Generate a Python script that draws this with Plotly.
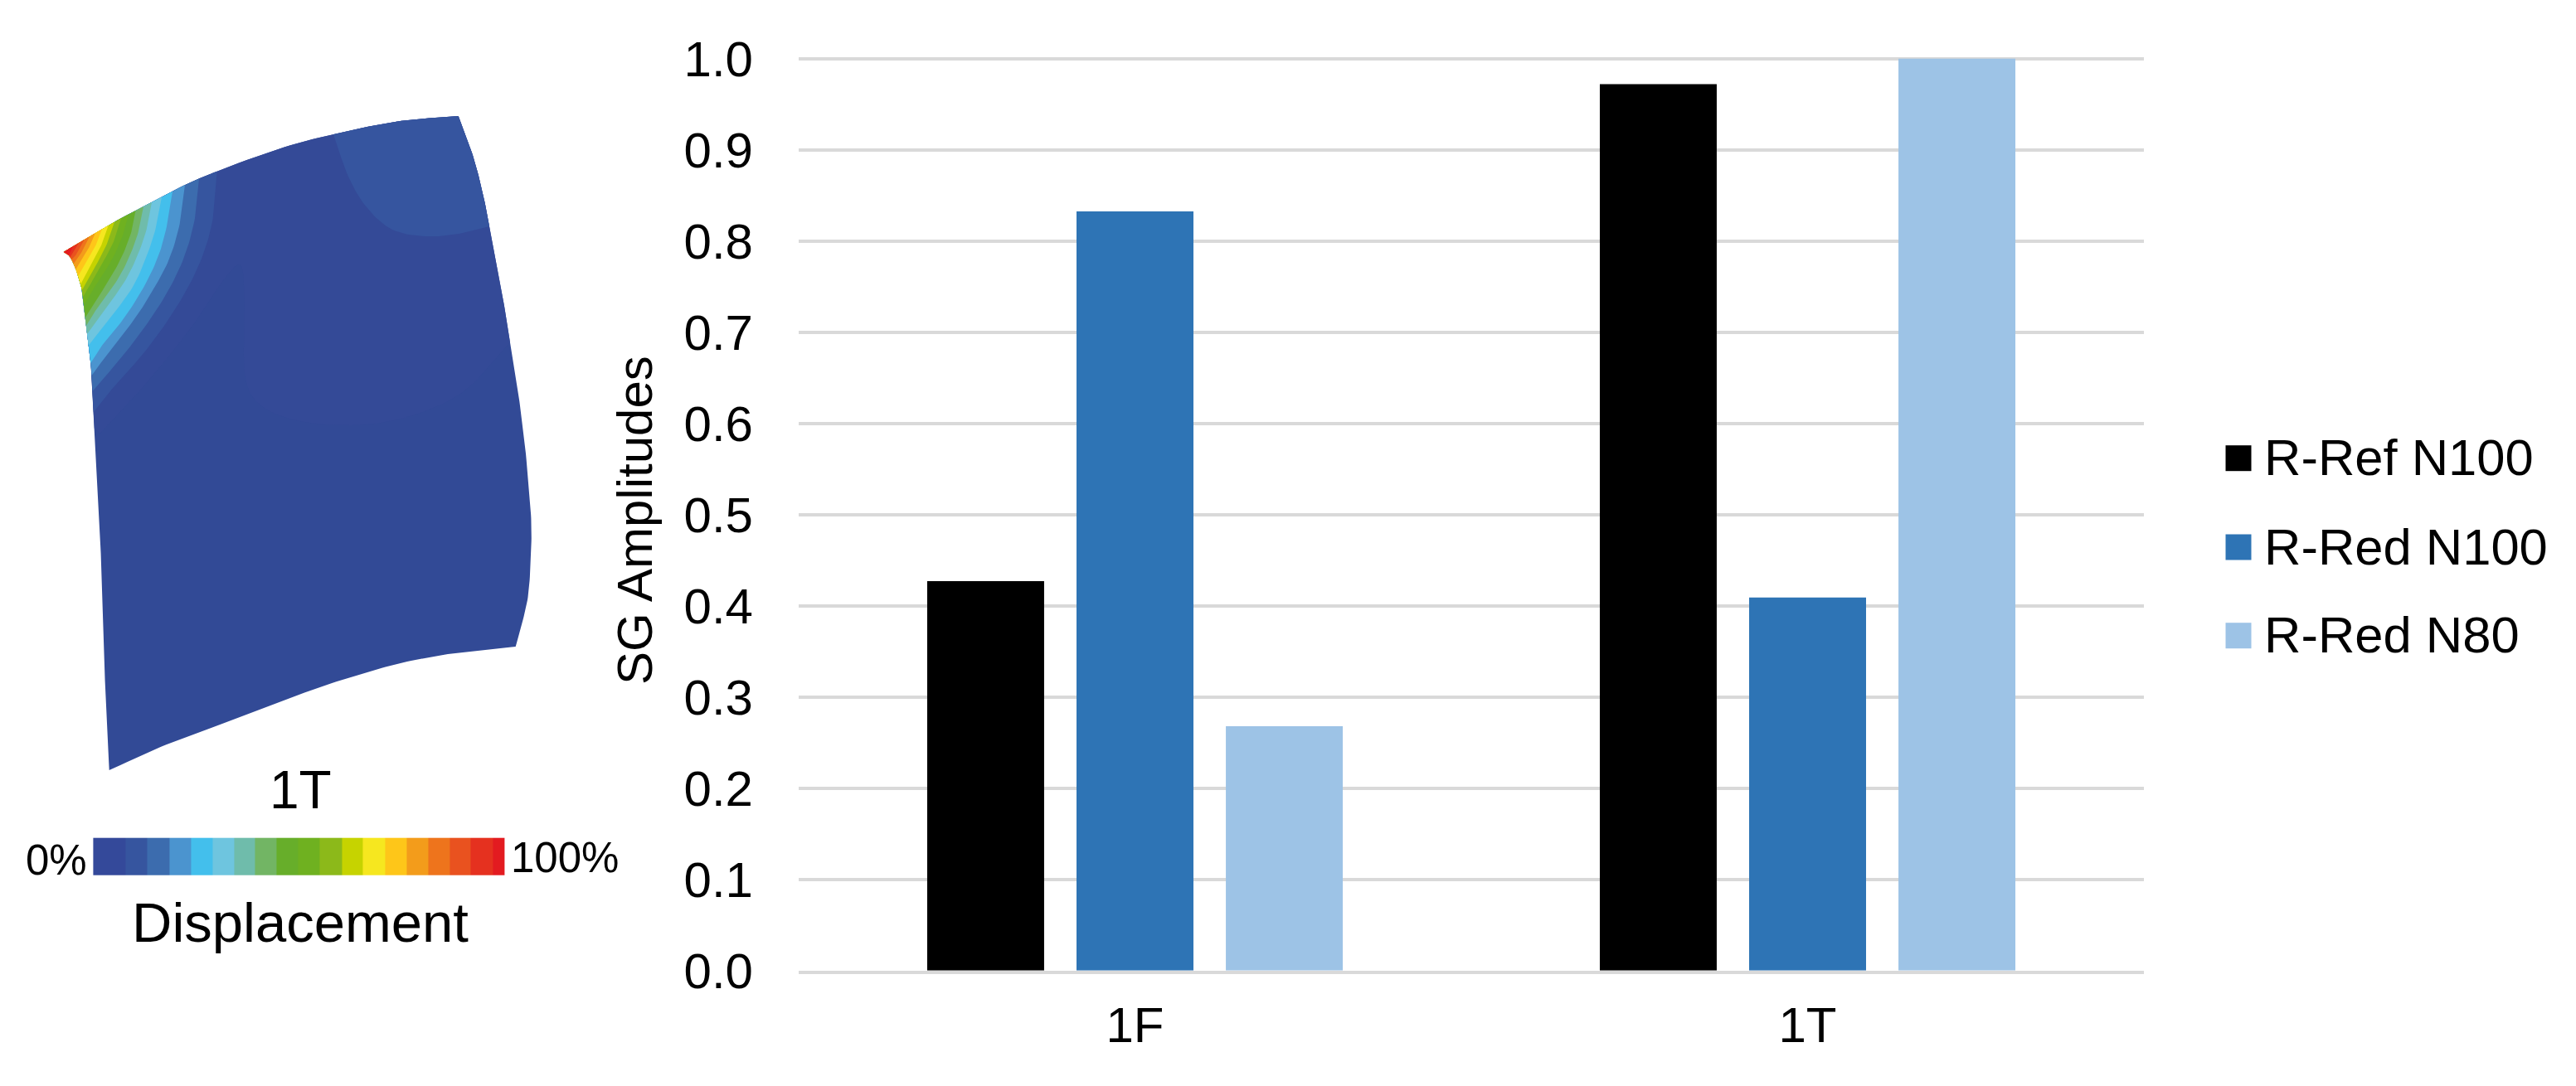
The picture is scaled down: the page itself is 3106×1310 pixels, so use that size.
import numpy as np
import plotly.graph_objects as go

W, H = 3106, 1310
FONT = "Liberation Sans"

# ---- bar chart data
modes = ["1F", "1T"]
r_ref_n100 = [0.427, 0.972]
r_red_n100 = [0.8325, 0.409]
r_red_n80 = [0.268, 1.0]
series_names = ["R-Ref N100", "R-Red N100", "R-Red N80"]
series_colors = ["#000000", "#2e74b5", "#9dc3e6"]
y_ticks = [0.0, 0.1, 0.2, 0.3, 0.4, 0.5, 0.6, 0.7, 0.8, 0.9, 1.0]

# ---- contour colours / colour bar (left to right)
band_colors = ["#34499a", "#36559f", "#3c6cae", "#4b94cf", "#43bfec", "#6ec5df", "#6fbcab",
               "#72b564", "#67ae2a", "#6fb120", "#8cb91a", "#c6d300", "#f6e71f", "#fec619",
               "#f39c1b", "#ee741c", "#e9521f", "#e5311f", "#e31b20"]
bar_edges = [112.4, 151.7, 177, 204, 229.9, 256.7, 282.6, 307.5, 333.8, 359.7, 385.6, 411.9,
             437.8, 464.2, 490.5, 516, 542.3, 567.7, 594.5, 608]

# ---- blade outline (picture coordinates)
blade_top = [(76.8, 304), (134, 270), (183, 244), (241, 215), (335, 180), (402, 162), (469, 148),
             (513, 143), (552.7, 140)]
blade_right = [(552.7, 140), (563, 167), (573, 197), (583, 237), (590, 273), (600, 323), (607, 363),
               (615, 413), (622, 453), (628, 497), (633, 537), (638, 593), (640.7, 633), (640, 673),
               (637, 717), (630, 750), (621.7, 780)]
blade_bottom = [(621.7, 780), (573, 785), (540, 789), (491, 798), (446, 810), (388, 828),
                (335, 848), (268, 873), (201, 898), (131.7, 929)]
blade_left = [(131.7, 929), (127, 833), (123, 700), (118, 600), (113, 500), (110.5, 450), (105, 403),
              (101.7, 373), (99.3, 352), (93.3, 330), (88.3, 317), (83.3, 308.3), (76.8, 304)]

# contour bands: x where each meets the top edge, interior points, y where it meets the left edge
band_top_x = [261.7, 240, 223, 208, 195, 183, 173, 163.5, 155, 146, 138, 130.7, 123, 115, 108, 101.7, 95, 88.3]
band_left_y = [497, 471.7, 452.7, 438, 416.7, 403, 393, 383, 368, 358, 350, 343, 333, 325, 318, 313, 310, 308]
band_arcs = [
    [(256.7, 263.3), (245, 306.7), (226.7, 346.7), (200, 390), (170, 430), (140, 463.3)],
    [(235, 263.3), (223.3, 306.7), (205, 346.7), (180, 386.7), (150, 426.7)],
    [(216.7, 270), (205, 310), (188.3, 343.3), (163.3, 383.3), (133.3, 421.7)],
    [(201.7, 270), (191.7, 306.7), (175, 343.3), (150, 383.3), (126.7, 411.7)],
    [(188.3, 273.3), (178.3, 305), (161.7, 343.3), (138.3, 376.7)],
    [(176.7, 276.7), (165, 310), (150, 340), (126.7, 373.3)],
    [(166.7, 280), (155, 311.7), (140, 340), (118.3, 370)],
    [(158.3, 280), (146.7, 310), (130, 340)],
    [(148.3, 283.3), (135, 313.3), (120, 336.7)],
    [(138.3, 288.3), (126.7, 311.7)],
    [(130, 291.7), (116.7, 318.3)],
    [(123.3, 293.3), (110, 318.3)],
    [(116.7, 293.3), (103.3, 316.7)],
    [(108.3, 296.7), (96.7, 315)],
    [(100, 301.7)],
    [(93.3, 305)],
    [(88.3, 305)],
    [(85, 303)],
]

# faint lighter patches of the same displacement range
patch_corner = [(402, 162), (420, 213), (442, 250), (473, 277), (513, 285), (553, 282), (590, 273)]
patch_inner = [(120.5, 523), (178.6, 460), (232, 393), (268, 340), (290, 320), (295, 367), (295, 450),
               (312, 487), (357, 507), (424, 513), (491, 503), (558, 473), (615, 413)]
blade_base_color = "#324a96"
blade_inner_color = "#344a97"


def smooth(pts, n=10):
    """Catmull-Rom drawing of a hand-read curve."""
    p = np.array(pts, float)
    if len(p) < 3:
        return p
    q = np.vstack([2 * p[0] - p[1], p, 2 * p[-1] - p[-2]])
    out = []
    for i in range(1, len(q) - 2):
        for t in np.linspace(0, 1, n, endpoint=False):
            a, b, c, d = q[i - 1], q[i], q[i + 1], q[i + 2]
            out.append(0.5 * (2 * b + (c - a) * t + (2 * a - 5 * b + 4 * c - d) * t ** 2 + (3 * b - a - 3 * c + d) * t ** 3))
    out.append(p[-1])
    return np.array(out)


top = smooth(blade_top)
right = smooth(blade_right)
bottom = smooth(blade_bottom)
left = smooth(blade_left)


def poly(color, pts):
    return go.Scatter(x=pts[:, 0], y=pts[:, 1], xaxis="x2", yaxis="y2", mode="lines", fill="toself",
                      fillcolor=color, line=dict(width=0, color=color), hoverinfo="skip", showlegend=False)


fig = go.Figure()

for name, vals, col in zip(series_names, [r_ref_n100, r_red_n100, r_red_n80], series_colors):
    fig.add_trace(go.Bar(name=name, x=modes, y=vals, marker=dict(color=col, line=dict(width=0)), showlegend=False))

# blade
outline = np.vstack([top, right[1:], bottom[1:], left[1:]])
fig.add_trace(poly(blade_base_color, outline))

# upper part, slightly lighter
li = smooth(patch_inner)
right_part = right[right[:, 1] <= patch_inner[-1][1]]
left_part = left[left[:, 1] <= patch_inner[0][1]]
fig.add_trace(poly(blade_inner_color, np.vstack([left_part, top, right_part, li[::-1]])))

# corner patch
pc = smooth(patch_corner)
top_part = top[top[:, 0] >= patch_corner[0][0]]
rp = right[right[:, 1] <= patch_corner[-1][1]]
fig.add_trace(poly(band_colors[1], np.vstack([top_part, rp, pc[::-1]])))

# colour bands, from the outermost to the tip
for color, tx, ly, arc in zip(band_colors[1:], band_top_x, band_left_y, band_arcs):
    ty = np.interp(tx, top[:, 0], top[:, 1])
    lsorted = left[np.argsort(left[:, 1])]
    lx = np.interp(ly, lsorted[:, 1], lsorted[:, 0])
    curve = smooth([(tx, ty)] + arc + [(lx, ly)])
    top_seg = top[top[:, 0] < tx]
    left_seg = left[left[:, 1] < ly]
    fig.add_trace(poly(color, np.vstack([curve, left_seg, top_seg])))

# colour bar
n = len(band_colors)
scale = []
for i, c in enumerate(band_colors):
    scale += [[i / n, c], [(i + 1) / n, c]]
fig.add_trace(go.Heatmap(x=bar_edges, y=[1010.7, 1055.7], z=[[i + 0.5 for i in range(n)]], zmin=0, zmax=n,
                         colorscale=scale, showscale=False, hoverinfo="skip", xaxis="x2", yaxis="y2"))

# legend keys
legend_y = [552.7, 660, 766.7]
for y, col in zip(legend_y, series_colors):
    fig.add_trace(go.Scatter(x=[2699], y=[y], xaxis="x2", yaxis="y2", mode="markers", hoverinfo="skip",
                             marker=dict(symbol="square", size=31, color=col, line=dict(width=0)), showlegend=False))


def label(text, x, y, size, anchor="center", angle=0):
    fig.add_annotation(text=text, x=x, y=y, xref="x2", yref="y2", showarrow=False, xanchor=anchor, yanchor="middle",
                       textangle=angle, font=dict(family=FONT, size=size, color="#000000"), borderpad=0, borderwidth=0)


for y, name in zip(legend_y, series_names):
    label(name, 2730, y - 1, 61.5, "left")
label("SG Amplitudes", 765, 628, 60, angle=-90)
label("1T", 362, 953, 64)
label("0%", 68, 1037, 51)
label("100%", 681, 1034, 51)
label("Displacement", 362, 1112, 67)

GRID = "#d9d9d9"
Y_TOP = 1.004  # a little headroom so the 1.0 gridline is kept by the axis
fig.update_layout(
    width=W, height=H, margin=dict(l=0, r=0, t=0, b=0), autosize=False,
    paper_bgcolor="white", plot_bgcolor="rgba(0,0,0,0)",
    barmode="group", bargap=0.334, bargroupgap=0.217,
    font=dict(family=FONT, color="#000000"),
    xaxis=dict(domain=[963 / W, 2585 / W], type="category", showgrid=False, showline=True, linecolor=GRID, linewidth=4,
               layer="above traces", ticks="", tickfont=dict(size=60), ticklabelstandoff=10, anchor="y", zeroline=False,
               automargin=False),
    yaxis=dict(domain=[(H - 1170.7) / H, (H - 1170.7 + 1100 * Y_TOP) / H], range=[0, Y_TOP], tickvals=y_ticks,
               ticktext=[f"{v:.1f}" for v in y_ticks],
               showgrid=True, gridcolor=GRID, gridwidth=4, zeroline=False, showline=False, ticks="",
               tickfont=dict(size=60), ticklabelstandoff=54, anchor="x", automargin=False),
    xaxis2=dict(domain=[0, 1], range=[0, W], visible=False, fixedrange=True, anchor="y2", automargin=False),
    yaxis2=dict(domain=[0, 1], range=[H, 0], visible=False, fixedrange=True, anchor="x2", automargin=False),
)
fig.write_html("out.html", post_script="document.body.style.margin='0';", config={"displayModeBar": False})
